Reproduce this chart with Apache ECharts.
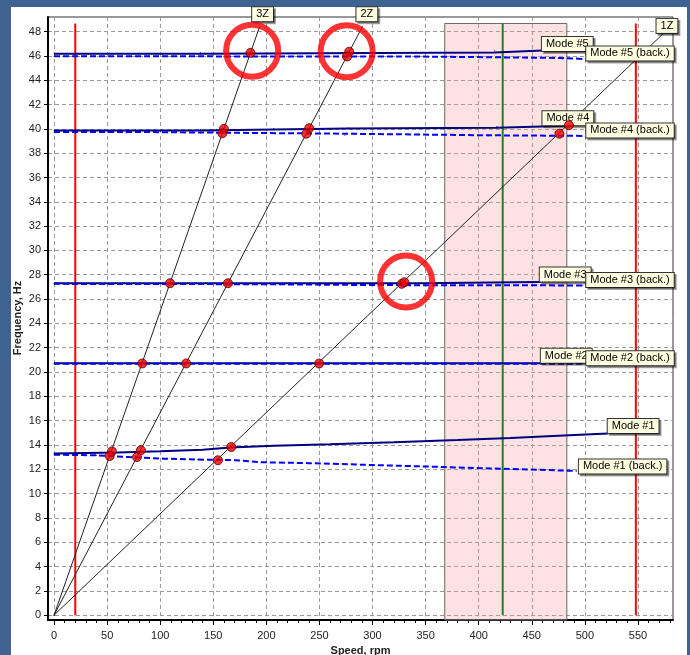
<!DOCTYPE html>
<html><head><meta charset="utf-8">
<script src="https://cdn.jsdelivr.net/npm/echarts@6/dist/echarts.min.js"></script>
<style>
html,body{margin:0;padding:0;background:#3f6391;width:690px;height:655px;overflow:hidden}
#panel{position:absolute;left:11px;top:7px;width:676px;height:648px;background:#fff}
#chart{position:absolute;left:0;top:0;width:690px;height:655px}
</style></head><body><div id="panel"></div><div id="chart"></div>
<script>
// ---- data ----
const xTicks = [0,50,100,150,200,250,300,350,400,450,500,550];
const xMinorTicks = [0,10,20,30,40,50,60,70,80,90,100,110,120,130,140,150,160,170,180,190,200,210,220,230,240,250,260,270,280,290,300,310,320,330,340,350,360,370,380,390,400,410,420,430,440,450,460,470,480,490,500,510,520,530,540,550,560,570,580];
const yTicks = [0,2,4,6,8,10,12,14,16,18,20,22,24,26,28,30,32,34,36,38,40,42,44,46,48];
const xRange = [-5.7, 583];
const yRange = [-0.4, 49.2];
const yAxisTitle = 'Frequency, Hz';
const xAxisTitle = 'Speed, rpm';

const mode1Fwd = [[0,13.3],[60,13.38],[100,13.48],[140,13.6],[166,13.78],[207,13.93],[260,14.05],[320,14.22],[380,14.4],[430,14.58],[480,14.78],[522,14.95]];
const mode1Back = [[0,13.2],[40,13.15],[71,13.0],[103,12.87],[135,12.8],[170,12.75],[195,12.58],[240,12.5],[300,12.35],[360,12.2],[420,12.05],[492,11.86]];
const mode2Fwd = [[0,20.72],[459,20.72]];
const mode2Back = [[0,20.68],[498,20.68]];
const mode3Fwd = [[0,27.3],[346,27.3],[346,27.37],[458,27.4]];
const mode3Back = [[0,27.25],[200,27.22],[300,27.15],[498,27.12]];
const mode4Fwd = [[0,39.87],[138,39.87],[138,39.95],[207,39.95],[207,40.03],[277,40.03],[277,40.1],[417,40.1],[417,40.2],[485,40.25]];
const mode4Back = [[0,39.75],[68,39.75],[68,39.65],[274,39.6],[274,39.47],[409,39.47],[409,39.42],[498,39.42]];
const mode5Fwd = [[0,46.17],[138,46.17],[138,46.27],[415,46.27],[415,46.42],[460,46.45]];
const mode5Back = [[0,45.97],[341,45.95],[341,45.83],[479,45.83],[479,45.75],[498,45.75]];

const z1Line = [[0,0],[574,47.85]];
const z2Line = [[0,0],[290.4,48.4]];
const z3Line = [[0,0],[193.6,48.4]];

const crossPoints = [
  [54.5,13.47],[52.4,13.09],[81.8,13.56],[78.1,13.0],[166.9,13.83],[154.4,12.74],
  [83.1,20.7],[124.5,20.7],[249.7,20.7],
  [109.2,27.3],[163.8,27.3],[327.5,27.25],[330,27.38],
  [160,40.0],[158.5,39.63],[240.3,40.05],[237.6,39.6],[485,40.3],[476,39.6],
  [185,46.25],[278,46.35],[276,45.95]
];
const rings = [[186.6,46.43],[275.6,46.38],[331.6,27.44]];

const redLineA = [[20,0],[20,48.67]];
const redLineB = [[548,0],[548,48.67]];
const greenLine = [[422.6,0],[422.6,48.67]];
const bandX = [368, 483];
const bandTop = 48.67;

// ---- styles ----
const FONT = "'Liberation Sans', Arial, sans-serif";
const boxLabel = {
  show: true, fontSize: 11, fontFamily: FONT, color: '#000',
  backgroundColor: '#ffffe1', borderColor: '#333', borderWidth: 1,
  padding: [1, 4, 1, 4], lineHeight: 12,
  shadowColor: 'rgba(0,0,0,0.35)', shadowOffsetX: 2, shadowOffsetY: 2, shadowBlur: 0
};

function labeled(arr, text, pos, align, vAlign) {
  return arr.map((p, i) => {
    if (i !== arr.length - 1) return { value: p, label: { show: false } };
    return { value: p, label: Object.assign({}, boxLabel, {
      formatter: text, position: pos, align: align, verticalAlign: vAlign }) };
  });
}

function modeLine(data, text, fwd, pos) {
  return {
    type: 'line', data: labeled(data, text, pos, 'left', 'bottom'),
    symbol: 'circle', symbolSize: 1, showSymbol: true, showAllSymbol: true,
    itemStyle: { color: fwd ? '#000080' : '#0000ff' },
    lineStyle: { color: fwd ? '#000080' : '#0000ff', width: 2, type: fwd ? 'solid' : [6, 3] },
    label: { show: false }, z: 3, clip: false, silent: true
  };
}
function zLine(data, text, pos) {
  return {
    type: 'line', data: labeled(data, text, pos, 'center', 'bottom'),
    symbol: 'circle', symbolSize: 1, showSymbol: true, showAllSymbol: true,
    itemStyle: { color: '#222' },
    lineStyle: { color: '#222', width: 1 }, label: { show: false }, z: 3, clip: false, silent: true
  };
}
function vLine(data, color) {
  return { type: 'line', data: data, symbol: 'none', lineStyle: { color: color, width: 2 }, z: 2, silent: true, clip: false };
}

const chart = echarts.init(document.getElementById('chart'), null, { renderer: 'canvas' });
chart.setOption({
  animation: false,
  backgroundColor: 'transparent',
  grid: { left: 48, right: 17, top: 17, bottom: 35, show: true, borderColor: '#333', borderWidth: 1,
          backgroundColor: 'transparent', outerBoundsMode: 'none', containLabel: false },
  graphic: [{
    type: 'text', x: 18, y: 318, rotation: Math.PI / 2, silent: true,
    style: { text: yAxisTitle, font: "bold 11px 'Liberation Sans', Arial, sans-serif", fill: '#222',
             align: 'center', verticalAlign: 'middle' }
  }],
  xAxis: [{
    type: 'value', min: xRange[0], max: xRange[1], position: 'bottom',
    axisLine: { show: true, onZero: false, lineStyle: { color: '#000', width: 2 } },
    axisTick: { show: true, customValues: xTicks, length: 5, lineStyle: { color: '#000' } },
    axisLabel: { customValues: xTicks, color: '#222', fontSize: 11, fontFamily: FONT, margin: 10 },
    splitLine: { show: true, lineStyle: { color: '#999', type: [4, 3], width: 1 } },
    name: xAxisTitle, nameLocation: 'middle', nameGap: 4,
    nameTextStyle: { fontWeight: 'bold', fontSize: 11, color: '#222', fontFamily: FONT }
  }, {
    type: 'value', min: xRange[0], max: xRange[1], position: 'bottom',
    axisLine: { show: false, onZero: false },
    axisTick: { show: true, customValues: xMinorTicks, length: 3, lineStyle: { color: '#000' } },
    axisLabel: { show: false }, splitLine: { show: false }
  }],
  yAxis: [{
    type: 'value', min: yRange[0], max: yRange[1],
    axisLine: { show: true, onZero: false, lineStyle: { color: '#000', width: 2 } },
    axisTick: { show: true, customValues: yTicks, length: 4, lineStyle: { color: '#000' } },
    axisLabel: { customValues: yTicks, color: '#222', fontSize: 11, fontFamily: FONT, margin: 7 },
    splitLine: { show: true, lineStyle: { color: '#999', type: [4, 3], width: 1 } }
  }],
  series: [
    {
      type: 'line', data: [], silent: true,
      markArea: {
        silent: true,
        itemStyle: { color: 'rgba(250,160,160,0.3)', borderColor: '#666', borderWidth: 1 },
        data: [[{ coord: [bandX[0], yRange[0]] }, { coord: [bandX[1], bandTop] }]]
      }, z: 1
    },
    vLine(redLineA, '#ff0000'),
    vLine(redLineB, '#ff0000'),
    vLine(greenLine, '#2a7d1a'),
    zLine(z1Line, '1Z', [4, 0]),
    zLine(z2Line, '2Z', [5, -5]),
    zLine(z3Line, '3Z', [3.5, -5]),
    modeLine(mode1Fwd, 'Mode #1', true, [0, 0]),
    modeLine(mode1Back, 'Mode #1 (back.)', false, [3, 3]),
    modeLine(mode2Fwd, 'Mode #2', true, [0, 0]),
    modeLine(mode2Back, 'Mode #2 (back.)', false, [4, 2]),
    modeLine(mode3Fwd, 'Mode #3', true, [0, 0]),
    modeLine(mode3Back, 'Mode #3 (back.)', false, [4, 2]),
    modeLine(mode4Fwd, 'Mode #4', true, [-26, 0]),
    modeLine(mode4Back, 'Mode #4 (back.)', false, [4, 2]),
    modeLine(mode5Fwd, 'Mode #5', true, [0, 1]),
    modeLine(mode5Back, 'Mode #5 (back.)', false, [4, 2]),
    {
      type: 'scatter', data: crossPoints, symbol: 'circle', symbolSize: 9,
      itemStyle: { color: '#f00000', borderColor: '#5a0000', borderWidth: 1 }, z: 4, silent: true
    },
    {
      type: 'scatter', data: rings, symbol: 'circle', symbolSize: 52,
      itemStyle: { color: 'rgba(0,0,0,0)', borderColor: '#ff0000', borderWidth: 6 }, z: 5, silent: true, clip: false
    }
  ]
});
</script></body></html>
